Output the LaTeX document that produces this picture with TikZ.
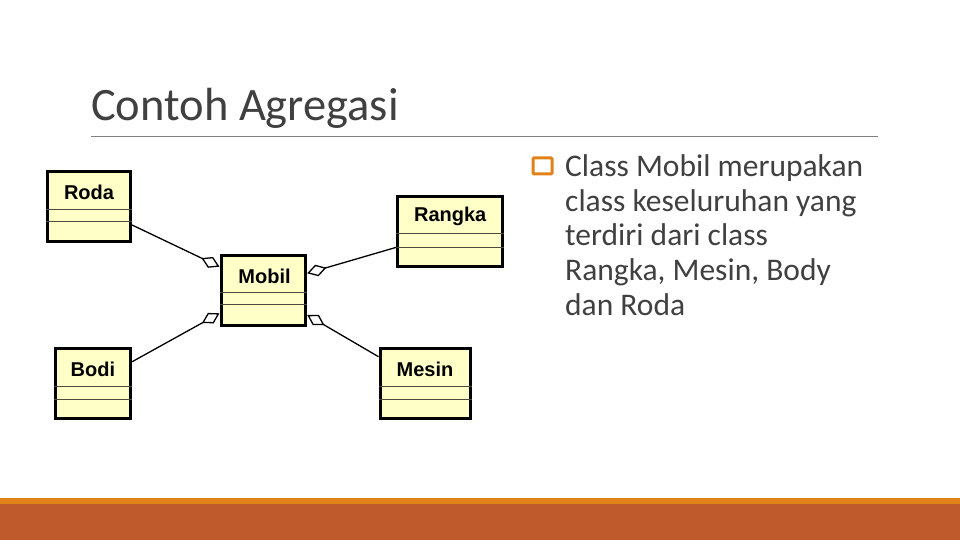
\documentclass[tikz,border=0pt]{standalone}
\usepackage{fontspec}
\setmainfont{Carlito}
\newfontfamily\umlfont{Liberation Sans}
\usepackage{xcolor}
\usetikzlibrary{arrows.meta, calc}

\definecolor{umlfill}{HTML}{FFFFC8}
\definecolor{slidetext}{HTML}{404040}
\definecolor{barorange}{HTML}{E08218}
\definecolor{barbrown}{HTML}{BE5A2C}

\tikzset{
  umlbox/.style={draw=black, line width=3pt, fill=umlfill, inner sep=0pt},
  umlname/.style={font=\umlfont\bfseries\fontsize{20}{23}\selectfont, inner sep=0pt},
  divider/.style={draw=black!70!umlfill, line width=1pt},
  agg/.style={line width=1.3pt, -{Diamond[open, length=20pt, width=12pt, line width=1.3pt]}}
}

\begin{document}
\begin{tikzpicture}[x=1pt, y=-1pt]
          \useasboundingbox (0,0) rectangle (960,540);

          % title
          \node[anchor=base west, inner sep=0pt, text=slidetext, font=\fontsize{46.5}{52}\selectfont] (title) at (91,121) {Contoh Agregasi};
          \draw[draw=black!50, line width=1pt] (title.base west |- 0,136.7) coordinate (ruleL) -- (878,136.7) coordinate (ruleR);

          % classes
          \node[umlbox, minimum width=83.4pt, minimum height=69.3pt] (roda) at (89,206.35) {};
          \node[umlbox, minimum width=105pt, minimum height=70.7pt] (rangka) at (450.2,231.35) {};
          \node[umlbox, minimum width=84.7pt, minimum height=70pt] (mobil) at (263.35,290) {};
          \node[umlbox, minimum width=75.7pt, minimum height=70pt] (bodi) at (92.85,383.3) {};
          \node[umlbox, minimum width=90pt, minimum height=70pt] (mesin) at (425,383.3) {};

          \node[umlname] (rodaT) at (89,192.5) {Roda};
          \node[umlname] (rangkaT) at (450.2,216.5) {Rangka};
          \node[umlname] (mobilT) at (264.5,276.5) {Mobil};
          \node[umlname] (bodiT) at (92.85,369.5) {Bodi};
          \node[umlname] (mesinT) at (425,369.5) {Mesin};

          \draw[divider] (roda.west |- 0,209.3) -- (roda.east |- 0,209.3);
          \draw[divider] (roda.west |- 0,221.7) -- (roda.east |- 0,221.7);
          \draw[divider] (rangka.west |- 0,233.3) -- (rangka.east |- 0,233.3);
          \draw[divider] (rangka.west |- 0,247.3) -- (rangka.east |- 0,247.3);
          \draw[divider] (mobil.west |- 0,292.7) -- (mobil.east |- 0,292.7);
          \draw[divider] (mobil.west |- 0,304.3) -- (mobil.east |- 0,304.3);
          \draw[divider] (bodi.west |- 0,386.7) -- (bodi.east |- 0,386.7);
          \draw[divider] (bodi.west |- 0,399.3) -- (bodi.east |- 0,399.3);
          \draw[divider] (mesin.west |- 0,386.7) -- (mesin.east |- 0,386.7);
          \draw[divider] (mesin.west |- 0,399.3) -- (mesin.east |- 0,399.3);

          % aggregation links
          \draw[agg] ([yshift=-18.7pt]roda.east) -- ([yshift=23.3pt]mobil.west);
          \draw[agg] ([yshift=-16pt]rangka.west) -- ([yshift=16.7pt]mobil.east);
          \draw[agg] ([yshift=21.6pt]bodi.east) -- ([yshift=-23.3pt]mobil.west);
          \draw[agg] ([yshift=26.6pt]mesin.west) -- ([yshift=-25pt]mobil.east);

          % bullet text
          \node[draw=barorange, line width=3pt, minimum width=19pt, minimum height=16pt, inner sep=0pt, rounded corners=1pt] (bullet) at (542.5,166) {};
          \node[anchor=base west, align=left, inner sep=0pt, text=slidetext, font=\fontsize{31.5}{34.6}\selectfont] (desc) at (565,315.1)
            {Class Mobil merupakan\\class keseluruhan yang\\terdiri dari class\\Rangka, Mesin, Body\\dan Roda};

          % bottom bars
          \fill[barorange] (0,497.7) rectangle (960,504);
          \fill[barbrown] (0,504) rectangle (960,540);
        \end{tikzpicture}
\end{document}
